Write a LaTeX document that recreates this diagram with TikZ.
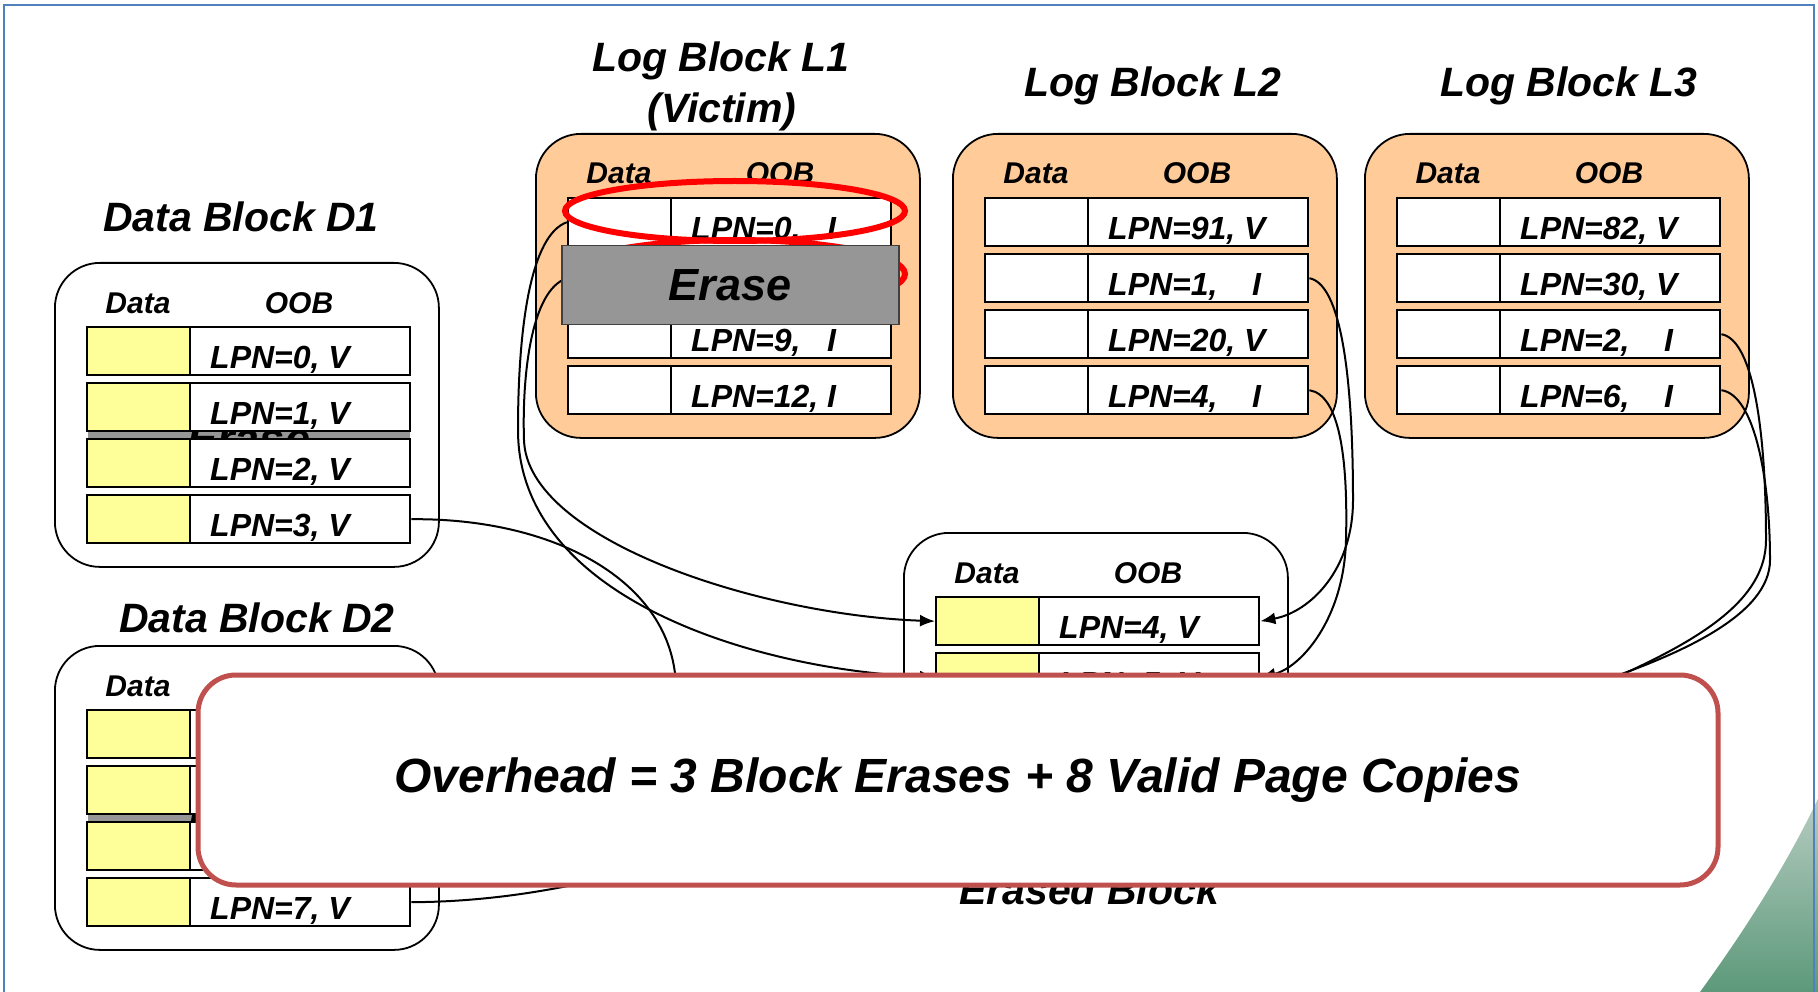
\documentclass[tikz,border=0pt]{standalone}
\usepackage{fontspec}
\setmainfont{Liberation Sans}
\usepackage{tikz}
\usetikzlibrary{arrows.meta}
\definecolor{logfill}{RGB}{255,204,153}
\definecolor{pagefill}{RGB}{255,255,153}
\definecolor{erasegray}{RGB}{150,150,150}
\definecolor{overred}{RGB}{192,80,77}
\definecolor{frameblue}{RGB}{79,129,189}
\definecolor{swooshtop}{RGB}{186,206,196}
\definecolor{swooshbot}{RGB}{92,153,122}
\newcommand{\blkfont}{\fontsize{41}{49}\selectfont\bfseries\itshape}
\newcommand{\colhdfont}{\fontsize{30}{36}\selectfont\bfseries\itshape}
\newcommand{\lpnfont}{\fontsize{32}{38}\selectfont\bfseries\itshape}
\newcommand{\erasefont}{\fontsize{45}{54}\selectfont\bfseries\itshape}
\newcommand{\overfont}{\fontsize{48}{56}\selectfont\bfseries\itshape}
\newcommand{\lpninv}[2][4.5em]{\makebox[#1][l]{LPN=#2,}I}

\begin{document}
\begin{tikzpicture}[x=1pt,y=-1pt,
  blockbox/.style={draw,line width=1.8pt,rounded corners=45pt,minimum width=384pt,minimum height=304pt,inner sep=0pt,anchor=north west},
  colhead/.style={font=\colhdfont,anchor=base,inner sep=0pt},
  datacell/.style={draw,line width=2.4pt,minimum width=103pt,minimum height=48pt,inner sep=0pt,anchor=north west},
  oobcell/.style={datacell,minimum width=220pt,fill=white},
  lpn/.style={font=\lpnfont,anchor=base west,inner sep=0pt},
  blocktitle/.style={font=\blkfont,anchor=base,inner sep=0pt},
  erasebar/.style={fill=erasegray,draw=black!75,line width=1.5pt,inner sep=0pt,anchor=north west,font=\erasefont},
  ring/.style={draw=red,line width=6pt},
  conn/.style={line width=2pt,-{Latex[length=15pt,width=12pt]}},
  overbox/.style={draw=overred,line width=5pt,fill=white,rounded corners=38pt,minimum width=1520pt,minimum height=210pt,font=\overfont}]
\useasboundingbox (0,0) rectangle (1818,992);
\shade[top color=swooshtop,bottom color=swooshbot] (1822,790) .. controls (1790,860) and (1745,930) .. (1700,992) -- (1822,992) -- cycle;

\node[blocktitle] (D1title) at (241,232) {Data Block D1};
\node[blocktitle] (D2title) at (257,632) {Data Block D2};
\node[blocktitle] (L1title) at (721,72) {Log Block L1};
\node[blocktitle] (L1victim) at (722,123) {(Victim)};
\node[blocktitle] (L2title) at (1153,97) {Log Block L2};
\node[blocktitle] (L3title) at (1569,97) {Log Block L3};

\foreach \blk/\bx/\by/\bc in {D1/54/262/white,D2/54/645/white,L1/535/133/logfill,L2/952/133/logfill,L3/1364/133/logfill,E/903/532/white}{
  \node[blockbox,fill=\bc] (\blk) at (\bx,\by) {};
  \node[colhead] (\blk hd) at (\bx+84,\by+51) {Data};
  \node[colhead] (\blk ho) at (\bx+245,\by+51) {OOB};
}

\node[erasebar,draw=none,minimum width=322pt,minimum height=68pt] (D1erase) at (87,404) {Erase};
\node[erasebar,draw=none,minimum width=322pt,minimum height=68pt] (D2erase) at (87,787) {Erase};

\foreach \blk/\bx/\by/\dc in {D1/54/262/pagefill,D2/54/645/pagefill,L1/535/133/white,L2/952/133/white,L3/1364/133/white,E/903/532/pagefill}
  \foreach \i in {1,...,4}{
    \node[datacell,fill=\dc] (\blk d\i) at (\bx+32,\by+8+56*\i) {};
    \node[oobcell] (\blk o\i) at (\bx+135,\by+8+56*\i) {};
  }

\foreach \c/\t in {D1o1/{LPN=0, V},D1o2/{LPN=1, V},D1o3/{LPN=2, V},D1o4/{LPN=3, V},D2o4/{LPN=7, V},
    L1o1/{\lpninv[4.25em]{0}},L1o3/{\lpninv[4.25em]{9}},L1o4/{LPN=12, I},
    L2o1/{LPN=91, V},L2o2/{\lpninv{1}},L2o3/{LPN=20, V},L2o4/{\lpninv{4}},
    L3o1/{LPN=82, V},L3o2/{LPN=30, V},L3o3/{\lpninv{2}},L3o4/{\lpninv{6}},
    Eo1/{LPN=4, V},Eo2/{LPN=5, V}}
  \node[lpn] (\c t) at ([xshift=21pt,yshift=8pt]\c.south west) {\t};

\draw[conn] (D1o4.east) .. controls (560,518) and (676,585) .. (676,690) .. controls (676,740) and (820,733) .. (Ed3.west);
\draw[conn] (D2o4.east) .. controls (650,901) and (820,789) .. (Ed4.west);
\draw[conn] (L1d1.west) .. controls (530,235) and (518,330) .. (518,430) .. controls (518,600) and (760,670) .. (Ed2.west);
\draw[conn] (L1d2.west) .. controls (530,290) and (522,380) .. (524,440) .. controls (527,540) and (760,615) .. (Ed1.west);
\draw[conn] (L2o2.east) .. controls (1345,285) and (1353,400) .. (1353,500) .. controls (1353,570) and (1310,612) .. (Eo1.east);
\draw[conn] (L2o4.east) .. controls (1340,395) and (1348,460) .. (1346,540) .. controls (1344,620) and (1300,668) .. (Eo2.east);
\draw[conn] (L3o3.east) .. controls (1755,340) and (1766,440) .. (1766,540) .. controls (1766,600) and (1700,640) .. (1610,680) .. controls (1480,735) and (1360,733) .. (Eo3.east);
\draw[conn] (L3o4.east) .. controls (1755,395) and (1770,480) .. (1770,560) .. controls (1770,615) and (1680,655) .. (1590,685) .. controls (1470,730) and (1360,789) .. (Eo4.east);

\draw[ring] (735,211) ellipse [x radius=170pt,y radius=30pt];
\draw[ring] (735,274) ellipse [x radius=170pt,y radius=34pt];
\node[erasebar,minimum width=337pt,minimum height=79pt] (L1erase) at (561,245) {Erase};

\node[blocktitle] (Etitle) at (1089,904) {Erased Block};
\node[overbox] (overhead) at (958,780) {Overhead = 3 Block Erases + 8 Valid Page Copies};

\draw[frameblue,line width=2.5pt] (4,992) -- (4,5) -- (1814,5) -- (1814,992);
\end{tikzpicture}
\end{document}
